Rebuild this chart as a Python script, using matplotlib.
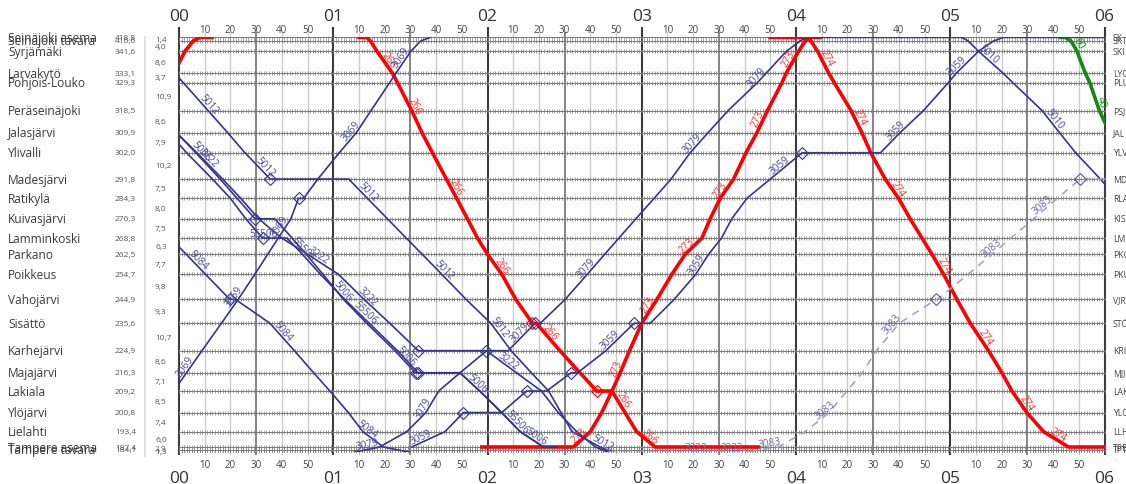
import numpy as np
import matplotlib
matplotlib.use("Agg")
import matplotlib.pyplot as plt
from matplotlib import transforms

plt.rcParams['font.family'] = ['Open Sans', 'DejaVu Sans']

# ---------------------------------------------------------------- stations
stations = ["Seinäjoki asema", "Seinäjoki tavara", "Syrjämäki", "Larvakytö", "Pohjois-Louko",
            "Peräseinäjoki", "Jalasjärvi", "Ylivalli", "Madesjärvi", "Ratikylä", "Kuivasjärvi",
            "Lamminkoski", "Parkano", "Poikkeus", "Vahojärvi", "Sisättö", "Karhejärvi",
            "Majajärvi", "Lakiala", "Ylöjärvi", "Lielahti", "Tampere asema", "Tampere tavara", ""]
station_km = ["418,8", "416,6", "341,6", "333,1", "329,3", "318,5", "309,9", "302,0", "291,8",
              "284,3", "276,3", "268,8", "262,5", "254,7", "244,9", "235,6", "224,9", "216,3",
              "209,2", "200,8", "193,4", "187,4", "184,1", ""]
station_codes = ["SK", "SKT", "SKI", "LYÖ", "PLU", "PSJ", "JAL", "YLV", "MDJ", "RLÄ", "KIS",
                 "LMK", "PKO", "PKU", "VJR", "STÖ", "KRI", "MJJ", "LAK", "YLÖ", "LLH", "TPE",
                 "TPT", ""]
# position of each station line along the graph (km)
graph_km = [347.0, 345.6, 341.6, 333.1, 329.3, 318.5, 309.9, 302.0, 291.8, 284.3, 276.3,
            268.8, 262.5, 254.7, 244.9, 235.6, 224.9, 216.3, 209.2, 200.8, 193.4, 187.4,
            186.35, 185.3]
segment_labels = ["1,4", "4,0", "8,6", "3,7", "10,9", "8,6", "7,9", "10,2", "7,5", "8,0", "7,5",
                  "6,3", "7,7", "9,8", "9,3", "10,7", "8,6", "7,1", "8,5", "7,4", "6,0", "2,9",
                  "1,3"]
hour_labels = ["00", "01", "02", "03", "04", "05", "06"]

# ---------------------------------------------------------------- trains
# each path: (minutes after 00:00, station index)
path_red_early = [(-2, 3), (2.3, 2), (5.5, 1), (8.2, 0), (12.8, 0)]
path_266 = [(70, 0), (73, 0), (74.5, 1), (77, 2), (83, 3), (85, 4), (90.5, 5), (94.5, 6),
            (98.6, 7), (104, 8), (108, 9), (112.2, 10), (116.1, 11), (120, 12), (125.6, 13),
            (131, 14), (137.5, 15), (139, 15), (148.2, 16), (156, 17), (162.5, 18), (168.4, 18),
            (173.5, 19), (178, 20), (185.2, 21), (225.4, 21)]
path_273 = [(117.8, 21), (153.4, 21), (160, 20), (164.4, 19), (168.4, 18), (171.6, 17),
            (175.2, 16), (180, 15), (185.9, 14), (191.7, 13), (196.9, 12), (203.4, 11),
            (206.6, 10), (210.5, 9), (215.7, 8), (220.5, 7), (224.8, 6), (228.9, 5), (234.5, 4),
            (236.2, 3), (241, 2), (243.6, 1), (245.5, 0), (249.4, 0)]
path_274 = [(230, 0), (244.5, 0), (245.8, 1), (248.4, 2), (252.7, 3), (254.9, 4), (261.4, 5),
            (265.6, 6), (269.1, 7), (274.7, 8), (279.9, 9), (284.4, 10), (289, 11), (292.9, 12),
            (297.4, 13), (302.6, 14), (307.8, 15), (314.9, 16), (320.1, 17), (324, 18),
            (329.8, 19), (336.3, 20), (346, 21), (362, 21)]
path_green = [(342.8, 0), (344.7, 0), (347, 1), (349.3, 2), (352.5, 3), (354.3, 4), (358, 5),
              (362, 6)]
path_5012 = [(-1.6, 3), (1.7, 4), (11.3, 5), (18.9, 6), (25.7, 7), (35.5, 8), (66, 8),
             (73.3, 9), (81.1, 10), (88.4, 11), (94.6, 12), (102.2, 13), (111.7, 14), (121.3, 15),
             (129.2, 16), (137.1, 17), (143.8, 18), (148.6, 19), (152.9, 20), (163.8, 21),
             (168.5, 23)]
path_3069 = [(-2.1, 18), (2.9, 17), (8.9, 16), (16.5, 15), (23, 14), (29.5, 13), (34.5, 12),
             (38.6, 11), (43.5, 10), (46.5, 9), (48.5, 9), (54, 8), (62.3, 7), (69, 6),
             (74.7, 5), (81.9, 4), (84.4, 3), (90.2, 2), (94, 1), (97.7, 0)]
path_3222 = [(-1, 6), (7, 7), (17, 8), (24, 9), (31, 10), (40, 11), (50, 12), (62, 13),
             (72, 14), (82, 15), (93.1, 16), (119.6, 16), (131.3, 17), (141, 18), (147.5, 19),
             (154.7, 20), (162, 21), (167, 23)]
path_3222_yard = [(167, 23), (222, 23)]
path_5006 = [(-1, 6), (6.6, 7), (16, 8), (22.6, 9), (29.6, 10), (37.3, 10), (44, 11),
             (49.5, 12), (56, 13), (64, 14), (73, 15), (84, 16), (92, 17), (109.3, 17),
             (117, 18), (125.5, 19), (132.7, 20), (141.8, 21), (147, 21)]
path_55506 = [(-4, 6), (3, 7), (13, 8), (20, 9), (26, 10), (32.5, 11), (42, 11), (48, 12),
              (55, 13), (64.5, 14), (74, 15), (85, 16), (93, 17), (109.3, 17), (117, 18),
              (125.5, 19), (132.7, 20), (141.8, 21), (147, 21)]
path_5084 = [(-3.4, 11), (2.8, 12), (10.3, 13), (19.8, 14), (22, 14), (35.4, 15), (44.9, 16),
             (52.4, 17), (58.7, 18), (65.9, 19), (71.5, 20), (79.5, 21), (90, 23)]
path_3079 = [(67.8, 23), (78, 21), (88.6, 20), (96, 19), (101, 18), (109.3, 17), (119.6, 16),
             (128, 16), (138.5, 15), (140.5, 15), (150.2, 14), (158.8, 13), (165.6, 12),
             (171.1, 11), (177.7, 10), (184.8, 9), (191.4, 8), (198.8, 7), (205.8, 6),
             (213.6, 5), (224.9, 4), (228.4, 3), (236.3, 2), (241.6, 1), (244.2, 0), (304.5, 0)]
path_3059 = [(90.5, 21), (103.5, 20), (110.6, 19), (125.5, 19), (135.2, 18), (143, 18),
             (152.5, 17), (155, 17), (166, 16), (177, 15), (183.3, 15), (192.6, 14),
             (201, 13), (206, 12), (211, 11), (215, 10), (220.9, 9), (230, 8), (242.3, 7),
             (272.8, 7), (280.5, 6), (289.6, 5), (299.2, 4), (302.4, 3), (311, 2), (316.8, 1),
             (320.7, 0), (362, 0)]
path_5010 = [(304.5, 0), (307, 1), (311, 2), (320.5, 3), (324.4, 4), (335.7, 5), (342.5, 6),
             (348.8, 7), (358.4, 8), (365, 9)]
path_3083 = [(222, 23), (226, 22), (233, 21), (243.6, 20), (252.9, 19), (259.7, 18),
             (265.8, 17), (271.2, 16), (280.2, 15), (294.5, 14), (295, 14), (307, 13),
             (316.2, 12), (323.6, 11), (332.5, 10), (341.6, 9), (350.6, 8), (362, 8)]

trains = [
    ("", path_red_early, "red"),
    ("266", path_266, "red"),
    ("273", path_273, "red"),
    ("274", path_274, "red"),
    ("60", path_green, "green"),
    ("5012", path_5012, "blue"),
    ("3069", path_3069, "blue"),
    ("3222", path_3222, "blue"),
    ("3222 ", path_3222_yard, "dashed"),
    ("5006", path_5006, "blue"),
    ("55506", path_55506, "blue"),
    ("5084", path_5084, "blue"),
    ("3079", path_3079, "blue"),
    ("3059", path_3059, "blue"),
    ("5010", path_5010, "blue"),
    ("3083", path_3083, "dashed"),
]
# waits that run past the end of the chart
open_waits = [("3083", 350.6, 8)]

# where the number of each train is written along its line (minutes)
label_times = {
    "266": [80, 90, 106, 124, 143, 171, 182],
    "273": [157, 172, 184, 199, 212, 227, 239],
    "274": [250, 263, 278, 296, 312, 328, 341],
    "60": [348],
    "5012": [10, 32, 72, 101.6, 123, 163.8],
    "3069": [4, 23, 41, 68.5, 88],
    "3222": [10, 53, 72, 127],
    "3222 ": [201, 215],
    "5006": [7, 62, 87, 115, 137.8],
    "55506": [33, 47, 71, 130],
    "5084": [6, 39, 72],
    "3079": [73.5, 96.5, 134, 160, 201, 226],
    "3059": [95, 169, 203, 235, 280, 304],
    "5010": [313.5, 339],
    "3083": [230, 252.5, 279, 317.5, 337],
}
extra_labels = {"40": ("green", 357)}

styles = {
    "red": dict(color="#ff0000", lw=2.6, ls="-", text="#ff3030"),
    "green": dict(color="#138a13", lw=2.6, ls="-", text="#138a13"),
    "blue": dict(color="#35358f", lw=1.2, ls="-", text="#4a4a9a"),
    "dashed": dict(color="#9d9dcc", lw=1.1, ls=(0, (5, 4)), text="#6a6aaa"),
}

# ---------------------------------------------------------------- figure
W, H = 1126, 485
fig = plt.figure(figsize=(W / 100, H / 100), dpi=100)
x_left, x_right = 179.0, 1104.5
y_top, y_bot = 38.4, 453.4
ax = fig.add_axes([x_left / W, 1 - y_bot / H, (x_right - x_left) / W, (y_bot - y_top) / H])
ax.set_xlim(0, 360)
ax.set_ylim(graph_km[-1], graph_km[0])
ax.axis("off")

km_per_px = (graph_km[0] - graph_km[-1]) / (y_bot - y_top)

# vertical time grid
for m in range(0, 361, 10):
    if m % 60 == 0:
        col, lw, top_px, bot_px = "#3c3c3c", 1.5, 10, 3
    elif m % 30 == 0:
        col, lw, top_px, bot_px = "#707070", 1.2, 5, 3
    else:
        col, lw, top_px, bot_px = "#cdcdcd", 1.0, 5, 3
    ax.plot([m, m], [graph_km[-1] - bot_px * km_per_px, graph_km[0] + top_px * km_per_px],
            color=col, lw=lw, clip_on=False, zorder=1, solid_capstyle="butt")

# station lines with minute ticks
minutes = np.arange(0, 361, 1)
for gk in graph_km:
    ax.plot([0, 360], [gk, gk], color="#7a7a7a", lw=0.7, zorder=2)
    ax.plot(minutes, np.full(minutes.shape, gk), ls="none", marker="|", ms=2.6, mew=0.5,
            color="#7a7a7a", zorder=2)

# time labels
for h, lab in enumerate(hour_labels):
    xm = h * 60
    ax.text(xm, graph_km[0] + (y_top - 17) * km_per_px, lab, ha="center", va="center",
            fontsize=12.5, color="#333333")
    ax.text(xm, graph_km[-1] - (479 - y_bot) * km_per_px, lab, ha="center", va="center",
            fontsize=12.5, color="#333333", clip_on=False)
    if h < 6:
        for k in range(1, 6):
            xm2 = h * 60 + k * 10
            ax.text(xm2, graph_km[0] + (y_top - 30) * km_per_px, f"{k * 10}", ha="center",
                    va="center", fontsize=7, color="#444444")
            ax.text(xm2, graph_km[-1] - (465 - y_bot) * km_per_px, f"{k * 10}", ha="center",
                    va="center", fontsize=7, color="#444444")

# station names, km and distances on the left, codes on the right
tr_left = transforms.blended_transform_factory(fig.transFigure, ax.transData)
for name, km, code, gk in zip(stations, station_km, station_codes, graph_km):
    if name:
        fig.text(8 / W, gk, name, transform=tr_left, ha="left", va="center", fontsize=8.6,
                 color="#3a3a3a")
        fig.text(136 / W, gk, km, transform=tr_left, ha="right", va="center", fontsize=6,
                 color="#555555")
    if code:
        fig.text(1113 / W, gk, code, transform=tr_left, ha="left", va="center", fontsize=6.2,
                 color="#444444")
for i, seg in enumerate(segment_labels):
    mid = 0.5 * (graph_km[i] + graph_km[i + 1])
    fig.text(155 / W, mid, seg, transform=tr_left, ha="left", va="center", fontsize=6,
             color="#555555")
fig.add_artist(plt.Line2D([145 / W, 145 / W], [1 - 457 / H, 1 - 38 / H],
                          color="#d8d8d8", lw=1.2, transform=fig.transFigure))


def path_xy(path):
    t = np.array([p[0] for p in path], dtype=float)
    y = np.array([graph_km[p[1]] for p in path], dtype=float)
    return t, y


def put_label(t_arr, y_arr, tm, text, color):
    yv = np.interp(tm, t_arr, y_arr)
    i = int(np.clip(np.searchsorted(t_arr, tm) - 1, 0, len(t_arr) - 2))
    p0 = ax.transData.transform((t_arr[i], y_arr[i]))
    p1 = ax.transData.transform((t_arr[i + 1], y_arr[i + 1]))
    ang = np.degrees(np.arctan2(p1[1] - p0[1], p1[0] - p0[0]))
    if ang > 90:
        ang -= 180
    if ang < -90:
        ang += 180
    nx, ny = -np.sin(np.radians(ang)), np.cos(np.radians(ang))
    ax.annotate(text.strip(), xy=(tm, yv), xytext=(nx * 5, ny * 5), textcoords="offset pixels",
                rotation=ang, rotation_mode="anchor", ha="center", va="center",
                fontsize=7.2, color=color, zorder=6)


def diamond(tm, idx, kind):
    col = styles[kind]["color"] if kind != "dashed" else "#5a5aa8"
    ax.plot(tm, graph_km[idx], marker="D", ms=6, mfc="none", mec=col, mew=0.8, zorder=5)


kinds = {}
for label, path, kind in trains:
    kinds[label] = kind
    st = styles[kind]
    t_arr, y_arr = path_xy(path)
    ax.plot(t_arr, y_arr, color=st["color"], lw=st["lw"], ls=st["ls"], zorder=4,
            solid_joinstyle="round")
    # hollow diamonds where a train waits at an intermediate station
    for j in range(1, len(path) - 2):
        if path[j][1] == path[j + 1][1]:
            diamond(path[j][0], path[j][1], kind)
    for tm in label_times.get(label, []):
        put_label(t_arr, y_arr, tm, label, st["text"])

for label, tm, idx in open_waits:
    diamond(tm, idx, kinds[label])

for text, (kind, tm) in extra_labels.items():
    t_arr, y_arr = path_xy(path_green)
    put_label(t_arr, y_arr, tm, text, styles[kind]["text"])

fig.savefig("out.png", dpi=100)
